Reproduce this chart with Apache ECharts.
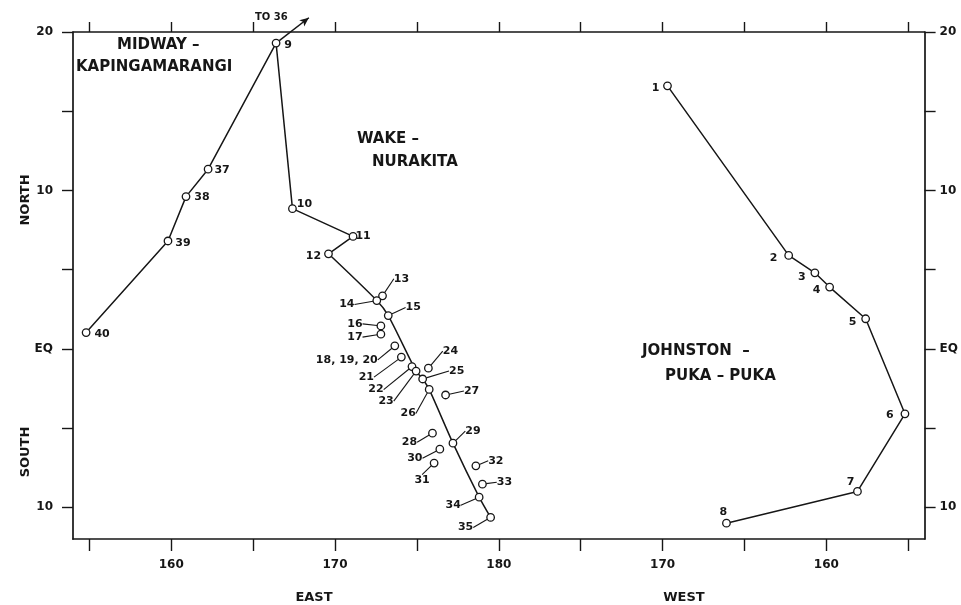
<!DOCTYPE html>
<html>
<head>
<meta charset="utf-8">
<script src="https://cdn.jsdelivr.net/npm/echarts@6/dist/echarts.min.js"></script>
<style>
    html, body { margin: 0; padding: 0; background: #fff; }
    #main { width: 961px; height: 605px; }
</style>
</head>
<body>
<div id="main"></div>
<script>
// stations: longitude in degrees east (west longitudes as 360 - W), latitude (south negative)
var stationNames = ['1', '2', '3', '4', '5', '6', '7', '8',
    '9', '10', '11', '12', '13', '14', '15', '16', '17', '18, 19, 20', '21', '22', '23', '24', '25',
    '26', '27', '28', '29', '30', '31', '32', '33', '34', '35',
    '37', '38', '39', '40']
var stationLon = [190.3, 197.7, 199.3, 200.2, 202.4, 204.8, 201.9, 193.9,
    166.4, 167.4, 171.1, 169.6, 172.9, 172.55, 173.25, 172.8, 172.8, 173.65, 174.05, 174.7, 174.95, 175.7, 175.35,
    175.75, 176.75, 175.95, 177.2, 176.4, 176.05, 178.6, 179.0, 178.8, 179.5,
    162.25, 160.9, 159.8, 154.8]
var stationLat = [16.6, 5.9, 4.8, 3.9, 1.9, -4.1, -9.0, -11.0,
    19.3, 8.85, 7.1, 6.0, 3.35, 3.05, 2.1, 1.45, 0.93, 0.19, -0.52, -1.12, -1.4, -1.22, -1.9,
    -2.56, -2.91, -5.32, -5.95, -6.33, -7.21, -7.38, -8.54, -9.36, -10.64,
    11.34, 9.61, 6.81, 1.03]

// tracks, by station name
var johnstonTrack = ['1', '2', '3', '4', '5', '6', '7', '8']
var wakeTrackA = ['9', '10', '11', '12']
var wakeTrackB = ['12', '14', '15', '23', '25', '26', '29', '34', '35']
var midwayTrack = ['9', '37', '38', '39', '40']
var toStation36 = [168.4, 20.9]

var xTicks = [155, 160, 165, 170, 175, 180, 185, 190, 195, 200, 205]
var xLabels = [160, 170, 180, 190, 200]
var yTicks = [20, 15, 10, 5, 0, -5, -10]
var yLabels = [20, 10, 0, -10]

// label placement (pixel shift from the circle) and which ones get a leader line
var labelShift = {
    '1': [-12, 2], '2': [-15, 3], '3': [-13, 4], '4': [-13, 3], '5': [-13, 3], '6': [-15, 1],
    '7': [-7, -9], '8': [-3, -11], '9': [12, 2], '10': [12, -5], '11': [10, 0], '12': [-15, 2],
    '13': [19, -17], '14': [-30, 4], '15': [25, -8], '16': [-26, -2], '17': [-26, 3],
    '18, 19, 20': [-48, 14], '21': [-35, 20], '22': [-36, 23], '23': [-30, 30], '24': [22, -17],
    '25': [34, -8], '26': [-21, 24], '27': [26, -4], '28': [-23, 9], '29': [20, -12],
    '30': [-25, 9], '31': [-12, 17], '32': [20, -5], '33': [22, -2], '34': [-26, 8], '35': [-25, 10],
    '37': [14, 1], '38': [16, 1], '39': [15, 2], '40': [16, 2]
}
var noLeader = ['1', '2', '3', '4', '5', '6', '7', '8', '9', '10', '11', '12', '37', '38', '39', '40']

var ink = '#161616'
var font = 'DejaVu Sans'

function trackData (names) {
    return names.map(function (n) {
        var i = stationNames.indexOf(n)
        return [stationLon[i], stationLat[i]]
    })
}

var pointData = stationNames.map(function (n, i) {
    return {
        name: n,
        value: [stationLon[i], stationLat[i]],
        labelLine: { show: noLeader.indexOf(n) < 0 }
    }
})

var lineBase = {
    type: 'line',
    symbol: 'none',
    silent: true,
    lineStyle: { color: ink, width: 1.5 },
    z: 2
}

function xLabel (v) {
    return v > 180 ? String(360 - v) : String(v)
}

function yLabel (v) {
    return v === 0 ? 'EQ' : String(Math.abs(v))
}

var axisText = { color: ink, fontFamily: font, fontWeight: 'bold', fontSize: 12 }

var myChart = echarts.init(document.getElementById('main'), null, { renderer: 'canvas' })

var option = {
    backgroundColor: '#fff',
    animation: false,
    grid: { left: 73, right: 36, top: 32, bottom: 66 },
    xAxis: [{
        type: 'value',
        position: 'bottom',
        min: 154,
        max: 206,
        axisLine: { show: true, onZero: false, lineStyle: { color: ink, width: 1.7 } },
        axisTick: { show: true, length: 12, customValues: xTicks, lineStyle: { color: ink, width: 1.4 } },
        axisLabel: Object.assign({ margin: 20, customValues: xLabels, formatter: xLabel }, axisText),
        splitLine: { show: false }
    }, {
        type: 'value',
        position: 'top',
        min: 154,
        max: 206,
        axisLine: { show: true, onZero: false, lineStyle: { color: ink, width: 1.5 } },
        axisTick: { show: true, length: 10, customValues: xTicks, lineStyle: { color: ink, width: 1.4 } },
        axisLabel: { show: false },
        splitLine: { show: false }
    }],
    yAxis: [{
        type: 'value',
        position: 'left',
        min: -12,
        max: 20,
        axisLine: { show: true, onZero: false, lineStyle: { color: ink, width: 1.7 } },
        axisTick: { show: true, length: 11, customValues: yTicks, lineStyle: { color: ink, width: 1.4 } },
        axisLabel: Object.assign({ margin: 20, customValues: yLabels, formatter: yLabel }, axisText),
        splitLine: { show: false }
    }, {
        type: 'value',
        position: 'right',
        min: -12,
        max: 20,
        axisLine: { show: true, onZero: false, lineStyle: { color: ink, width: 1.7 } },
        axisTick: { show: true, length: 11, customValues: yTicks, lineStyle: { color: ink, width: 1.4 } },
        axisLabel: Object.assign({ margin: 15, customValues: yLabels, formatter: yLabel }, axisText),
        splitLine: { show: false }
    }],
    graphic: [
        { type: 'text', left: 117, top: 38, style: { text: 'MIDWAY –', fill: ink, font: 'bold 15px ' + font } },
        { type: 'text', left: 76, top: 60, style: { text: 'KAPINGAMARANGI', fill: ink, font: 'bold 15px ' + font } },
        { type: 'text', left: 357, top: 132, style: { text: 'WAKE –', fill: ink, font: 'bold 15px ' + font } },
        { type: 'text', left: 372, top: 155, style: { text: 'NURAKITA', fill: ink, font: 'bold 15px ' + font } },
        { type: 'text', left: 642, top: 344, style: { text: 'JOHNSTON  –', fill: ink, font: 'bold 15px ' + font } },
        { type: 'text', left: 665, top: 369, style: { text: 'PUKA – PUKA', fill: ink, font: 'bold 15px ' + font } },
        { type: 'text', left: 255, top: 12, style: { text: 'TO 36', fill: ink, font: 'bold 10px ' + font } },
        { type: 'text', x: 26, y: 200, rotation: Math.PI / 2, style: { text: 'NORTH', fill: ink, font: 'bold 13px ' + font, align: 'center', verticalAlign: 'middle' } },
        { type: 'text', x: 26, y: 452, rotation: Math.PI / 2, style: { text: 'SOUTH', fill: ink, font: 'bold 13px ' + font, align: 'center', verticalAlign: 'middle' } },
        { type: 'text', x: 314, y: 598, style: { text: 'EAST', fill: ink, font: 'bold 13px ' + font, align: 'center', verticalAlign: 'middle' } },
        { type: 'text', x: 684, y: 598, style: { text: 'WEST', fill: ink, font: 'bold 13px ' + font, align: 'center', verticalAlign: 'middle' } }
    ],
    series: [
        Object.assign({ name: 'Johnston - Puka-Puka', data: trackData(johnstonTrack) }, lineBase),
        Object.assign({ name: 'Wake - Nurakita', data: trackData(wakeTrackA) }, lineBase),
        Object.assign({ name: 'Wake - Nurakita curve', data: trackData(wakeTrackB), smooth: 0.25 }, lineBase),
        Object.assign({ name: 'Midway - Kapingamarangi', data: trackData(midwayTrack) }, lineBase),
        {
            name: 'to 36',
            type: 'line',
            clip: false,
            silent: true,
            data: [
                { value: trackData(['9'])[0], symbol: 'none' },
                { value: toStation36, symbol: 'arrow', symbolSize: [6, 9], symbolRotate: -52 }
            ],
            itemStyle: { color: ink },
            lineStyle: { color: ink, width: 1.5 },
            z: 2
        },
        {
            name: 'stations',
            type: 'scatter',
            symbol: 'circle',
            symbolSize: 7.5,
            itemStyle: { color: '#fff', borderColor: ink, borderWidth: 1.3, opacity: 1 },
            label: {
                show: true,
                position: 'inside',
                formatter: '{b}',
                color: ink,
                fontFamily: font,
                fontWeight: 'bold',
                fontSize: 11
            },
            labelLine: { show: true, lineStyle: { color: ink, width: 1.1 } },
            labelLayout: function (params) {
                var s = labelShift[pointData[params.dataIndex].name] || [0, 0]
                return { dx: s[0], dy: s[1] }
            },
            data: pointData,
            z: 5
        }
    ]
}

myChart.setOption(option)
window.onresize = myChart.resize
</script>
</body>
</html>
